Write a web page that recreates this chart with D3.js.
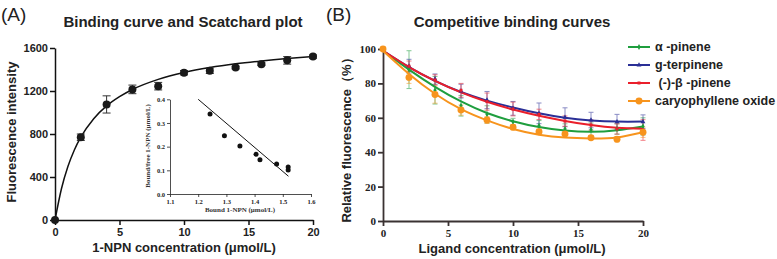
<!DOCTYPE html>
<html>
<head>
<meta charset="utf-8">
<script src="https://cdn.jsdelivr.net/npm/d3@7"></script>
<style>
  body { margin: 0; background: #fff; }
  svg { display: block; }
  text { font-family: Arial, "Liberation Sans", sans-serif; }
  .serif text, text.serif { font-family: "Liberation Serif", "Times New Roman", serif; }
</style>
</head>
<body>
<svg id="chart"></svg>
<script>
// Panel A - binding curve
let concA = [0, 2, 4, 6, 8, 10, 12, 14, 16, 18, 20]
let fluorA = [0, 770, 1075, 1215, 1245, 1370, 1388, 1418, 1450, 1485, 1520]
let errA = [0, 30, 80, 40, 35, 20, 25, 12, 12, 35, 15]
let fitAX = [0, 0.5, 1, 1.5, 2, 3, 4, 5, 6, 8, 10, 12, 14, 16, 18, 20]
let fitAY = [0, 291, 497, 651, 770, 942, 1061, 1147, 1214, 1308, 1372, 1418, 1453, 1480, 1502, 1520]
let ticksAX = [0, 5, 10, 15, 20]
let ticksAY = [0, 400, 800, 1200, 1600]

// Inset - Scatchard plot
let boundIn = [1.242, 1.293, 1.348, 1.405, 1.419, 1.478, 1.519, 1.519]
let ratioIn = [0.338, 0.246, 0.203, 0.168, 0.145, 0.127, 0.114, 0.101]
let lineInX = [1.2, 1.52]
let lineInY = [0.4, 0.075]
let ticksInX = [1.1, 1.2, 1.3, 1.4, 1.5, 1.6]
let ticksInY = [0, 0.1, 0.2, 0.3, 0.4]

// Panel B - competitive binding
let concB = [0, 2, 4, 6, 8, 10, 12, 14, 16, 18, 20]
let seriesNames = ["α -pinene", "g-terpinene", " (-)-β -pinene", "caryophyllene oxide"]
let greenPts = [100, 88, 76, 67, 62, 57.7, 55.4, 53.5, 53, 53.5, 55]
let greenErr = [0, 11, 8, 6, 5, 2, 3, 3, 4, 3, 5]
let greenFit = [99, 88, 78, 69.5, 62.8, 58, 54.6, 52.6, 51.9, 52.8, 55]
let bluePts = [100, 90, 82.5, 75.5, 70.3, 65.5, 62.6, 60.3, 58.7, 57.7, 57.7]
let blueErr = [0, 4, 3, 4, 5, 4, 6, 5.5, 4.5, 4.3, 4]
let blueFit = [99, 89.5, 81.5, 75, 70, 66, 62.6, 60, 58.5, 57.8, 57.8]
let redPts = [100, 90, 82, 76, 69.4, 65.1, 62, 58.1, 55.8, 53.5, 52.9]
let redErr = [0, 3, 3, 4, 5, 4, 3, 3, 3, 3, 6]
let redFit = [99, 89.5, 81.5, 74.8, 69.3, 64.8, 61.2, 58.2, 55.8, 54.2, 53.6]
let orangePts = [100, 83.5, 73.5, 64.5, 58.7, 54.5, 51.9, 50.6, 48.4, 47.5, 51.6]
let orangeErr = [0, 3.5, 5, 3, 2, 1.5, 1.5, 1, 1, 1.5, 3]
let orangeFit = [99, 85.5, 74, 65, 58.5, 53.5, 50.2, 48.5, 48, 48.6, 51.6]
let ticksBX = [0, 5, 10, 15, 20]
let ticksBY = [0, 20, 40, 60, 80, 100]

let colors = ["#1f9e3e", "#2a2f96", "#ea1f2b", "#f7941d"]
let markers = [d3.symbolDiamond, d3.symbolTriangle, d3.symbolSquare, d3.symbolCircle]
let markerSize = [10, 10, 9, 38]

let svg = d3.select("#chart").attr("width", 777).attr("height", 259)

drawPanelA(svg)
drawInset(svg)
drawPanelB(svg)

// Style an axis: line colour and width, bold tick labels
function styleAxis(g, color, width, fontSize, serif) {
    g.select(".domain").attr("stroke", color).attr("stroke-width", width)
    g.selectAll(".tick line").attr("stroke", color).attr("stroke-width", width)
    g.selectAll(".tick text")
        .attr("fill", "#222")
        .style("font-size", fontSize + "px")
        .style("font-weight", "bold")
        .style("font-family", serif ? "'Liberation Serif', 'Times New Roman', serif" : "Arial, 'Liberation Sans', sans-serif")
}

function drawPanelA(svg) {
    let x = d3.scaleLinear().domain([0, 20]).range([55, 313])
    let y = d3.scaleLinear().domain([0, 1600]).range([220, 48])

    svg.append("text").attr("x", 1).attr("y", 21).text("(A)")
        .style("font-size", "19px").attr("fill", "#222")
    svg.append("text").attr("x", 183).attr("y", 27).attr("text-anchor", "middle")
        .text("Binding curve and Scatchard plot")
        .style("font-size", "15px").style("font-weight", "bold").attr("fill", "#222")

    let xAxis = svg.append("g").attr("transform", "translate(0,220)")
        .call(d3.axisBottom(x).tickValues(ticksAX).tickSize(5).tickSizeOuter(0).tickPadding(3))
    styleAxis(xAxis, "#111", 1.5, 11, false)
    let yAxis = svg.append("g").attr("transform", "translate(55,0)")
        .call(d3.axisLeft(y).tickValues(ticksAY).tickFormat(d3.format("d")).tickSize(5).tickSizeOuter(0).tickPadding(2))
    styleAxis(yAxis, "#111", 1.5, 11, false)

    svg.append("text").attr("x", 184).attr("y", 252).attr("text-anchor", "middle")
        .text("1-NPN concentration (μmol/L)")
        .style("font-size", "13px").style("font-weight", "bold").attr("fill", "#222")
    svg.append("text").attr("transform", "translate(16,132) rotate(-90)").attr("text-anchor", "middle")
        .text("Fluorescence intensity")
        .style("font-size", "13px").style("font-weight", "bold").attr("fill", "#222")

    // fitted curve
    svg.append("path")
        .datum(fitAX.map((d, i) => [d, fitAY[i]]))
        .attr("fill", "none").attr("stroke", "#111").attr("stroke-width", 1.5)
        .attr("d", d3.line().x(d => x(d[0])).y(d => y(d[1])).curve(d3.curveMonotoneX))

    // error bars and points
    for (let i = 0; i < concA.length; i++) {
        let cx = x(concA[i])
        if (errA[i] > 0) {
            let top = y(fluorA[i] + errA[i]), bot = y(fluorA[i] - errA[i])
            svg.append("line").attr("x1", cx).attr("x2", cx).attr("y1", top).attr("y2", bot)
                .attr("stroke", "#333").attr("stroke-width", 1)
            svg.append("line").attr("x1", cx - 4).attr("x2", cx + 4).attr("y1", top).attr("y2", top)
                .attr("stroke", "#333").attr("stroke-width", 1)
            svg.append("line").attr("x1", cx - 4).attr("x2", cx + 4).attr("y1", bot).attr("y2", bot)
                .attr("stroke", "#333").attr("stroke-width", 1)
        }
        svg.append("circle").attr("cx", cx).attr("cy", y(fluorA[i])).attr("r", 4).attr("fill", "#1a1a1a")
    }
}

function drawInset(svg) {
    let x = d3.scaleLinear().domain([1.1, 1.6]).range([170, 311])
    let y = d3.scaleLinear().domain([0, 0.4]).range([194, 99.3])

    let xAxis = svg.append("g").attr("transform", "translate(0,194)")
        .call(d3.axisBottom(x).tickValues(ticksInX).tickFormat(d3.format(".1f")).tickSize(3).tickSizeOuter(0).tickPadding(2))
    styleAxis(xAxis, "#222", 0.8, 6.5, true)
    let yAxis = svg.append("g").attr("transform", "translate(170,0)")
        .call(d3.axisLeft(y).tickValues(ticksInY).tickFormat(d3.format(".1f")).tickSize(3).tickSizeOuter(0).tickPadding(2))
    styleAxis(yAxis, "#222", 0.8, 6.5, true)

    svg.append("text").attr("class", "serif").attr("x", 240).attr("y", 212).attr("text-anchor", "middle")
        .text("Bound 1-NPN (μmol/L)")
        .style("font-size", "7px").style("font-weight", "bold").attr("fill", "#333")
    svg.append("text").attr("class", "serif").attr("transform", "translate(150,146) rotate(-90)").attr("text-anchor", "middle")
        .text("Bound/free 1-NPN (μmol/L)")
        .style("font-size", "7px").style("font-weight", "bold").attr("fill", "#333")

    svg.append("line")
        .attr("x1", x(lineInX[0])).attr("y1", y(lineInY[0]))
        .attr("x2", x(lineInX[1])).attr("y2", y(lineInY[1]))
        .attr("stroke", "#111").attr("stroke-width", 1)

    svg.selectAll(".inpt").data(boundIn).enter().append("circle")
        .attr("cx", d => x(d)).attr("cy", (d, i) => y(ratioIn[i])).attr("r", 2.5).attr("fill", "#111")
}

function drawPanelB(svg) {
    let x = d3.scaleLinear().domain([0, 20]).range([383, 643])
    let y = d3.scaleLinear().domain([0, 100]).range([221, 49])

    svg.append("text").attr("x", 326).attr("y", 21).text("(B)")
        .style("font-size", "19px").attr("fill", "#222")
    svg.append("text").attr("x", 512).attr("y", 27).attr("text-anchor", "middle")
        .text("Competitive binding curves")
        .style("font-size", "15px").style("font-weight", "bold").attr("fill", "#222")

    let xAxis = svg.append("g").attr("transform", "translate(0,221)")
        .call(d3.axisBottom(x).tickValues(ticksBX).tickSize(5).tickSizeOuter(0).tickPadding(3))
    styleAxis(xAxis, "#3a3232", 1.8, 11, true)
    let yAxis = svg.append("g").attr("transform", "translate(383,0)")
        .call(d3.axisLeft(y).tickValues(ticksBY).tickSize(5).tickSizeOuter(0).tickPadding(2))
    styleAxis(yAxis, "#3a3232", 1.8, 11, true)

    svg.append("text").attr("x", 512).attr("y", 253).attr("text-anchor", "middle")
        .text("Ligand concentration (μmol/L)")
        .style("font-size", "13px").style("font-weight", "bold").attr("fill", "#222")
    svg.append("text").attr("transform", "translate(351,137) rotate(-90)").attr("text-anchor", "middle")
        .text("Relative fluorescence（%）")
        .style("font-size", "13px").style("font-weight", "bold").attr("fill", "#222")

    let pts = [greenPts, bluePts, redPts, orangePts]
    let errs = [greenErr, blueErr, redErr, orangeErr]
    let fits = [greenFit, blueFit, redFit, orangeFit]

    // error bars first, faded
    for (let s = 0; s < 4; s++) {
        for (let i = 0; i < concB.length; i++) {
            if (errs[s][i] <= 0) continue
            let cx = x(concB[i])
            let top = y(pts[s][i] + errs[s][i]), bot = y(pts[s][i] - errs[s][i])
            let g = svg.append("g").attr("stroke", colors[s]).attr("stroke-width", 1).attr("opacity", 0.55)
            g.append("line").attr("x1", cx).attr("x2", cx).attr("y1", top).attr("y2", bot)
            g.append("line").attr("x1", cx - 2.5).attr("x2", cx + 2.5).attr("y1", top).attr("y2", top)
            g.append("line").attr("x1", cx - 2.5).attr("x2", cx + 2.5).attr("y1", bot).attr("y2", bot)
        }
    }

    // fitted curves
    let order = [1, 0, 2, 3]
    order.forEach(s => {
        svg.append("path")
            .datum(concB.map((d, i) => [d, fits[s][i]]))
            .attr("fill", "none").attr("stroke", colors[s]).attr("stroke-width", 2)
            .attr("d", d3.line().x(d => x(d[0])).y(d => y(d[1])).curve(d3.curveNatural))
    })

    // markers
    order.forEach(s => {
        svg.selectAll(".m" + s).data(concB).enter().append("path")
            .attr("transform", (d, i) => "translate(" + x(d) + "," + y(pts[s][i]) + ")")
            .attr("d", d3.symbol().type(markers[s]).size(markerSize[s]))
            .attr("fill", colors[s])
    })

    // legend
    let legY = [47, 65, 83, 101]
    for (let s = 0; s < 4; s++) {
        svg.append("line").attr("x1", 628).attr("x2", 650).attr("y1", legY[s]).attr("y2", legY[s])
            .attr("stroke", colors[s]).attr("stroke-width", 2)
        svg.append("path").attr("transform", "translate(639," + legY[s] + ")")
            .attr("d", d3.symbol().type(markers[s]).size(markerSize[s])).attr("fill", colors[s])
        svg.append("text").attr("x", 655).attr("y", legY[s] + 4).text(seriesNames[s])
            .style("font-size", "12.5px").style("font-weight", "bold").style("white-space", "pre")
            .attr("xml:space", "preserve").attr("fill", "#222")
    }
}
</script>
</body>
</html>
